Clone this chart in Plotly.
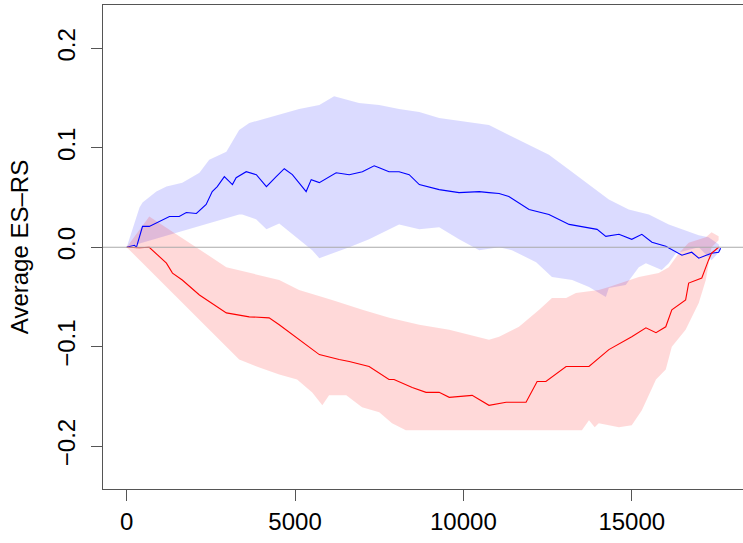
import plotly.graph_objects as go

# ---- data ----
blue_x = [0, 230, 290, 470, 670, 910, 1270, 1560, 1770, 2070, 2360, 2540, 2690, 2900, 3140, 3250, 3550, 3850,
          4150, 4440, 4680, 4920, 5330, 5480, 5720, 6220, 6610, 7000, 7350, 7500, 7790, 8090, 8390, 8690, 9280,
          9870, 10470, 10760, 11060, 11350, 11950, 12540, 13140, 13970, 14230, 14620, 15000, 15300, 15600, 16010,
          16490, 16780, 16990, 17370, 17580, 17640]
blue_y = [0.0, 0.002, 0.0, 0.021, 0.021, 0.025, 0.031, 0.031, 0.035, 0.034, 0.043, 0.056, 0.061, 0.071, 0.063,
          0.070, 0.076, 0.073, 0.061, 0.071, 0.079, 0.073, 0.056, 0.068, 0.065, 0.075, 0.073, 0.076, 0.082, 0.080,
          0.076, 0.076, 0.073, 0.063, 0.058, 0.055, 0.056, 0.055, 0.054, 0.051, 0.038, 0.033, 0.023, 0.018, 0.011,
          0.013, 0.008, 0.013, 0.005, 0.001, -0.008, -0.005, -0.011, -0.006, -0.005, -0.001]

red_x = [0, 380, 670, 1180, 1360, 1650, 2160, 2960, 3640, 4230, 4530, 5120, 5720, 6310, 6610, 7200, 7790, 7940,
         8480, 8890, 9280, 9580, 10260, 10760, 11270, 11860, 12190, 12450, 13050, 13730, 14320, 15000, 15420,
         15720, 16010, 16190, 16600, 16690, 17080, 17280, 17370, 17580]
red_y = [0.0, -0.0005, 0.0, -0.016, -0.026, -0.033, -0.048, -0.066, -0.070, -0.071, -0.078, -0.093, -0.108,
         -0.113, -0.115, -0.120, -0.133, -0.133, -0.141, -0.146, -0.146, -0.151, -0.149, -0.159, -0.156, -0.156,
         -0.135, -0.135, -0.120, -0.120, -0.103, -0.090, -0.081, -0.086, -0.080, -0.063, -0.053, -0.036, -0.031,
         -0.013, -0.006, 0.0]

blue_up_x = [0, 290, 380, 470, 880, 1180, 1650, 2160, 2450, 2960, 3340, 3640, 4530, 5120, 5720, 6160, 6900, 7500,
             8090, 8690, 9280, 10170, 10760, 11350, 11950, 12540, 13140, 13730, 14320, 14910, 15510, 16100, 16690,
             16990, 17280, 17580, 17640]
blue_up_y = [0.0, 0.030, 0.040, 0.045, 0.056, 0.061, 0.065, 0.075, 0.088, 0.096, 0.118, 0.125, 0.133, 0.139,
             0.143, 0.152, 0.145, 0.143, 0.139, 0.136, 0.130, 0.126, 0.123, 0.113, 0.103, 0.093, 0.078, 0.063,
             0.048, 0.038, 0.033, 0.023, 0.016, 0.012, 0.010, 0.003, -0.002]
blue_lo_x = [0, 3340, 3430, 3850, 4150, 4530, 4740, 5120, 5510, 5720, 6100, 6610, 7200, 8090, 8690, 9280, 9870,
             10470, 11060, 11440, 12160, 12630, 13230, 13730, 14230, 14320, 14820, 15210, 15420, 15890, 16100,
             16310, 16990, 17370, 17640]
blue_lo_y = [0.0, 0.033, 0.033, 0.028, 0.018, 0.024, 0.018, 0.008, -0.003, -0.011, -0.006, 0.0, 0.008, 0.023,
             0.018, 0.020, 0.008, -0.003, 0.0, -0.003, -0.015, -0.030, -0.033, -0.040, -0.050, -0.041, -0.038,
             -0.020, -0.016, -0.023, -0.016, -0.006, 0.0, -0.013, -0.003]

red_up_x = [0, 670, 2960, 3550, 4150, 4530, 5120, 6100, 7000, 7800, 8690, 9580, 10170, 10760, 11060, 11650,
            12250, 12630, 13050, 13340, 14020, 14320, 15210, 15800, 16100, 16400, 16690, 17200, 17370, 17580]
red_up_y = [0.0, 0.031, -0.020, -0.025, -0.030, -0.033, -0.043, -0.053, -0.063, -0.071, -0.078, -0.083, -0.088,
            -0.093, -0.090, -0.080, -0.063, -0.051, -0.051, -0.046, -0.043, -0.040, -0.030, -0.026, -0.020,
            -0.006, 0.0045, 0.010, 0.015, 0.011]
red_lo_x = [0, 3340, 3940, 4530, 5060, 5510, 5810, 6010, 6520, 6990, 7500, 7880, 8290, 13520, 13730, 13900,
            14020, 14320, 14620, 15000, 15300, 15720, 16010, 16190, 16600, 16990, 17200, 17370, 17580]
red_lo_y = [0.0, -0.113, -0.121, -0.128, -0.133, -0.146, -0.159, -0.149, -0.149, -0.161, -0.166, -0.177, -0.184,
            -0.184, -0.174, -0.181, -0.177, -0.179, -0.181, -0.179, -0.164, -0.133, -0.123, -0.100, -0.083,
            -0.056, -0.033, 0.0, 0.007]

x_ticks = [0, 5000, 10000, 15000]
y_ticks = [-0.2, -0.1, 0.0, 0.1, 0.2]
y_tick_text = ["\u22120.2", "\u22120.1", "0.0", "0.1", "0.2"]
y_title = "Average ES\u2013RS"

FONT = "Liberation Sans, Arial, Helvetica, sans-serif"
AX = "#555555"

fig = go.Figure()

fig.add_trace(go.Scatter(
    x=blue_up_x + blue_lo_x[::-1], y=blue_up_y + blue_lo_y[::-1],
    fill="toself", fillcolor="rgba(0,0,255,0.14)", line=dict(width=0),
    mode="lines", hoverinfo="skip", showlegend=False))
fig.add_trace(go.Scatter(
    x=red_up_x + red_lo_x[::-1], y=red_up_y + red_lo_y[::-1],
    fill="toself", fillcolor="rgba(255,0,0,0.15)", line=dict(width=0),
    mode="lines", hoverinfo="skip", showlegend=False))

fig.add_shape(type="line", xref="paper", yref="y", x0=0, x1=1, y0=0, y1=0,
              line=dict(color="#aaaaaa", width=1), layer="above")

fig.add_trace(go.Scatter(x=blue_x, y=blue_y, mode="lines",
                         line=dict(color="#0000ff", width=1.1), showlegend=False))
fig.add_trace(go.Scatter(x=red_x, y=red_y, mode="lines",
                         line=dict(color="#ff0000", width=1.1), showlegend=False))

fig.update_layout(
    width=743, height=543,
    margin=dict(l=103, r=0, t=5, b=54, autoexpand=False),
    paper_bgcolor="white", plot_bgcolor="white",
    font=dict(family=FONT, size=24, color="black"),
    xaxis=dict(range=[-704, 18304], tickvals=x_ticks, ticktext=[str(v) for v in x_ticks],
               automargin=False,
               showgrid=False, zeroline=False, showline=True, linecolor=AX, linewidth=1,
               mirror=True, ticks="outside", ticklen=11, tickcolor=AX, tickwidth=1,
               tickfont=dict(size=24, family=FONT)),
    yaxis=dict(range=[-0.2432, 0.2437], tickvals=y_ticks, ticktext=y_tick_text,
               automargin=False, ticklabelstandoff=6,
               showgrid=False, zeroline=False, showline=True, linecolor=AX, linewidth=1,
               mirror=False, ticks="outside", ticklen=11, tickcolor=AX, tickwidth=1,
               tickangle=-90, tickfont=dict(size=24, family=FONT)),
)

fig.add_annotation(text=y_title, xref="paper", yref="paper", x=-0.131, y=0.5,
                   xanchor="center", yanchor="middle", textangle=-90, showarrow=False,
                   font=dict(size=24, family=FONT, color="black"))

fig.write_html("out.html", config={"displayModeBar": False},
               post_script="document.body.style.margin='0';document.body.style.overflow='hidden';")
